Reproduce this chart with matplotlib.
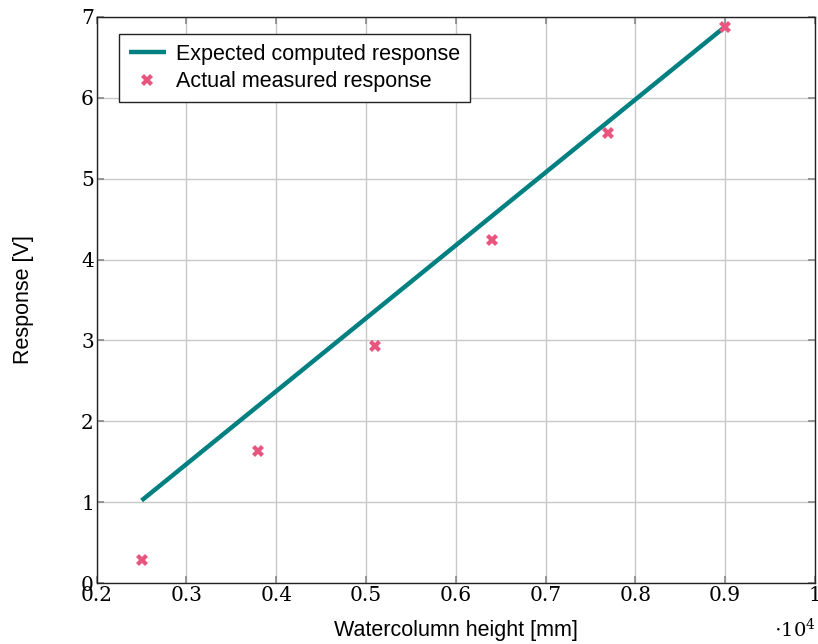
import matplotlib
matplotlib.use("Agg")
import matplotlib.pyplot as plt

line_x = [0.25, 0.90]
line_y = [1.02, 6.88]
meas_x = [0.25, 0.38, 0.51, 0.64, 0.77, 0.90]
meas_y = [0.28, 1.63, 2.93, 4.24, 5.56, 6.87]
xticks = [0.2, 0.3, 0.4, 0.5, 0.6, 0.7, 0.8, 0.9, 1.0]
xticklabels = ["0.2", "0.3", "0.4", "0.5", "0.6", "0.7", "0.8", "0.9", "1"]
yticks = [0, 1, 2, 3, 4, 5, 6, 7]

plt.rcParams['mathtext.fontset'] = 'dejavuserif'

fig = plt.figure(figsize=(8.18, 6.44), dpi=100)
ax = fig.add_axes([0.1182, 0.0947, 0.878, 0.879])

ax.plot(line_x, line_y, color='#008080', lw=3.2, solid_capstyle='butt',
        label='Expected computed response', zorder=3)
ax.plot(meas_x, meas_y, linestyle='none', marker='X', markersize=8,
        color='#e8557f', markeredgewidth=0, label='Actual measured response', zorder=4)

ax.set_xlim(0.2, 1.0)
ax.set_ylim(0, 7)
ax.set_xticks(xticks)
ax.set_xticklabels(xticklabels)
ax.set_yticks(yticks)
ax.grid(True, color='#c8c8c8', lw=1)
ax.set_axisbelow(True)
ax.tick_params(direction='in', length=5, width=1.2, color='#888888',
               top=True, right=True, labelsize=14.5, pad=2)
for lab in ax.get_xticklabels() + ax.get_yticklabels():
    lab.set_family('DejaVu Serif')
for s in ax.spines.values():
    s.set_linewidth(1)
    s.set_color('#222222')

ax.set_xlabel('Watercolumn height [mm]', family='Liberation Sans', fontsize=15.5, labelpad=11)
ax.set_ylabel('Response [V]', family='Liberation Sans', fontsize=15.5, labelpad=34)

fig.text(0.972, 0.005, r'$\cdot 10^4$', fontsize=14, ha='center', va='bottom')

leg = ax.legend(loc='upper left', bbox_to_anchor=(0.031, 0.97), fancybox=False,
                framealpha=1, edgecolor='#222222', prop={'family': 'Liberation Sans', 'size': 15.5},
                borderpad=0.45, labelspacing=0.32, handlelength=1.75, handletextpad=0.45,
                borderaxespad=0)
leg.get_frame().set_linewidth(1)

fig.savefig('out.png', dpi=100)
